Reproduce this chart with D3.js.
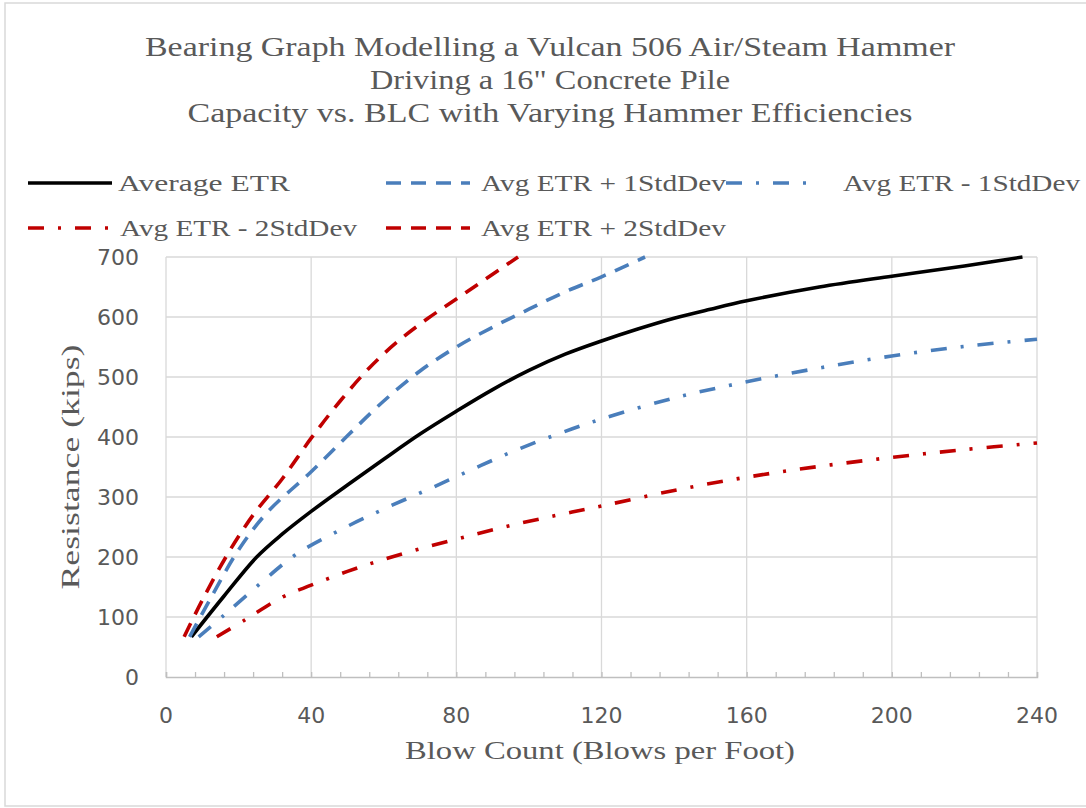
<!DOCTYPE html>
<html lang="en">
<head>
<meta charset="UTF-8">
<title>Bearing Graph - Vulcan 506</title>
<script src="https://d3js.org/d3.v7.min.js"></script>
<style>
    body { margin: 0; background: #fff; }
    svg { display: block; }
    .serif { font-family: 'Liberation Serif', 'Times New Roman', serif; fill: #595959; }
    .tick-label { font-family: 'DejaVu Sans', sans-serif; font-size: 22px; fill: #595959; }
    .grid line { stroke: #d9d9d9; stroke-width: 1.3; }
</style>
</head>
<body>
<div id="chart"></div>
<script>
// Data (blow count, resistance in kips)
const avgEtr = [[7,67],[16,135],[25,200],[32,238],[40,276],[50,320],[60,363],[70,405],[80,443],[90,479],[100,511],[110,538],[120,560],[130,580],[140,598],[150,613],[160,627],[180,650],[200,668],[220,685],[236,700]];
const plus1Sd = [[6.5,67],[12,128],[20,212],[28,275],[40,342],[50,402],[60,460],[70,510],[80,550],[90,583],[100,613],[110,642],[120,667],[132,700]];
const minus1Sd = [[9,67],[16,103],[26,156],[36,205],[48,245],[60,280],[72,312],[84,345],[96,377],[108,405],[120,430],[140,465],[160,492],[180,515],[200,535],[220,551],[240,563]];
const minus2Sd = [[14,67],[22,96],[32,133],[40,153],[50,176],[60,196],[72,217],[84,236],[96,254],[108,270],[120,285],[140,311],[160,333],[180,351],[200,366],[220,379],[240,390]];
const plus2Sd = [[5,67],[10,128],[17,205],[24,270],[32,330],[40,398],[48,460],[56,515],[64,560],[72,597],[80,630],[88,663],[97,700]];

const titleLines = ["Bearing Graph Modelling a Vulcan 506 Air/Steam Hammer", "Driving a 16\" Concrete Pile", "Capacity vs. BLC with Varying Hammer Efficiencies"];
const xTicks = [0, 40, 80, 120, 160, 200, 240];
const yTicks = [0, 100, 200, 300, 400, 500, 600, 700];

const series = [
    { name: "Average ETR", data: avgEtr, color: "#000000", dash: null },
    { name: "Avg ETR + 1StdDev", data: plus1Sd, color: "#4a7ebb", dash: "15,10" },
    { name: "Avg ETR - 1StdDev", data: minus1Sd, color: "#4a7ebb", dash: "16,14,3,14" },
    { name: "Avg ETR - 2StdDev", data: minus2Sd, color: "#c00000", dash: "16,14,3,14" },
    { name: "Avg ETR + 2StdDev", data: plus2Sd, color: "#c00000", dash: "15,10" }
];

const W = 1086, H = 808;
const svg = d3.select("#chart").append("svg").attr("width", W).attr("height", H);

// outer frame
svg.append("rect").attr("x", 5).attr("y", 3).attr("width", W).attr("height", H - 5)
    .attr("fill", "none").attr("stroke", "#d9d9d9").attr("stroke-width", 1.5);

const x = d3.scaleLinear().domain([0, 240]).range([166, 1037]);
const y = d3.scaleLinear().domain([0, 700]).range([677, 257]);

// helper: stretch text to a given width (reference text is horizontally stretched)
function fit(sel, w) {
    sel.attr("textLength", w).attr("lengthAdjust", "spacingAndGlyphs");
}

// titles
const titleY = [46, 79, 112];
const titleW = [810, 360, 725];
titleLines.forEach((t, i) => {
    svg.append("text").attr("class", "serif")
        .attr("x", 550).attr("y", titleY[i]).attr("dy", "0.35em")
        .attr("text-anchor", "middle").style("font-size", "28px")
        .text(t).call(fit, titleW[i]);
});

// gridlines
svg.append("g").attr("class", "grid")
    .selectAll("line.h").data(yTicks.slice(1)).enter().append("line")
    .attr("x1", x(0)).attr("x2", x(240))
    .attr("y1", d => y(d)).attr("y2", d => y(d));
svg.append("g").attr("class", "grid")
    .selectAll("line.v").data(xTicks).enter().append("line")
    .attr("y1", y(0)).attr("y2", y(700))
    .attr("x1", d => x(d)).attr("x2", d => x(d));

// x axis with inside minor ticks
const xAxis = svg.append("g").attr("transform", `translate(0,${y(0)})`)
    .call(d3.axisTop(x).tickValues(d3.range(0, 241, 8)).tickSize(5).tickFormat(""));
xAxis.select(".domain").attr("stroke", "#bfbfbf").attr("stroke-width", 1.5);
xAxis.selectAll(".tick line").attr("stroke", "#bfbfbf").attr("stroke-width", 1.3);

// tick labels
svg.append("g").selectAll("text").data(xTicks).enter().append("text")
    .attr("class", "tick-label").attr("x", d => x(d)).attr("y", 715)
    .attr("dy", "0.35em").attr("text-anchor", "middle").text(d => d);
svg.append("g").selectAll("text").data(yTicks).enter().append("text")
    .attr("class", "tick-label").attr("x", 139).attr("y", d => y(d))
    .attr("dy", "0.35em").attr("text-anchor", "end").text(d => d);

// axis titles
svg.append("text").attr("class", "serif").attr("x", 600).attr("y", 750).attr("dy", "0.35em")
    .attr("text-anchor", "middle").style("font-size", "26px")
    .text("Blow Count (Blows per Foot)").call(fit, 390);
svg.append("text").attr("class", "serif")
    .attr("transform", "translate(70,467) rotate(-90)").attr("dy", "0.35em")
    .attr("text-anchor", "middle").style("font-size", "26px")
    .text("Resistance (kips)").call(fit, 245);

// lines
const line = d3.line().x(d => x(d[0])).y(d => y(d[1])).curve(d3.curveCatmullRom.alpha(0.5));
svg.append("g").selectAll("path").data(series).enter().append("path")
    .attr("d", d => line(d.data))
    .attr("fill", "none")
    .attr("stroke", d => d.color)
    .attr("stroke-width", 3.6)
    .attr("stroke-dasharray", d => d.dash)
    .attr("stroke-linejoin", "round");

// legend
const legendPos = [
    { lx: 28, ly: 183, tx: 118, tw: 172 },
    { lx: 386, ly: 183, tx: 481, tw: 245 },
    { lx: 726, ly: 183, tx: 843, tw: 237 },
    { lx: 28, ly: 228, tx: 120, tw: 237 },
    { lx: 386, ly: 228, tx: 481, tw: 245 }
];
const leg = svg.append("g").selectAll("g").data(series).enter().append("g");
leg.append("line")
    .attr("x1", (d, i) => legendPos[i].lx).attr("x2", (d, i) => legendPos[i].lx + 84)
    .attr("y1", (d, i) => legendPos[i].ly).attr("y2", (d, i) => legendPos[i].ly)
    .attr("stroke", d => d.color).attr("stroke-width", 3.6)
    .attr("stroke-dasharray", d => d.dash);
leg.append("text").attr("class", "serif")
    .attr("x", (d, i) => legendPos[i].tx).attr("y", (d, i) => legendPos[i].ly)
    .attr("dy", "0.35em").style("font-size", "24px")
    .text(d => d.name)
    .each(function(d, i) { d3.select(this).call(fit, legendPos[i].tw); });
</script>
</body>
</html>
